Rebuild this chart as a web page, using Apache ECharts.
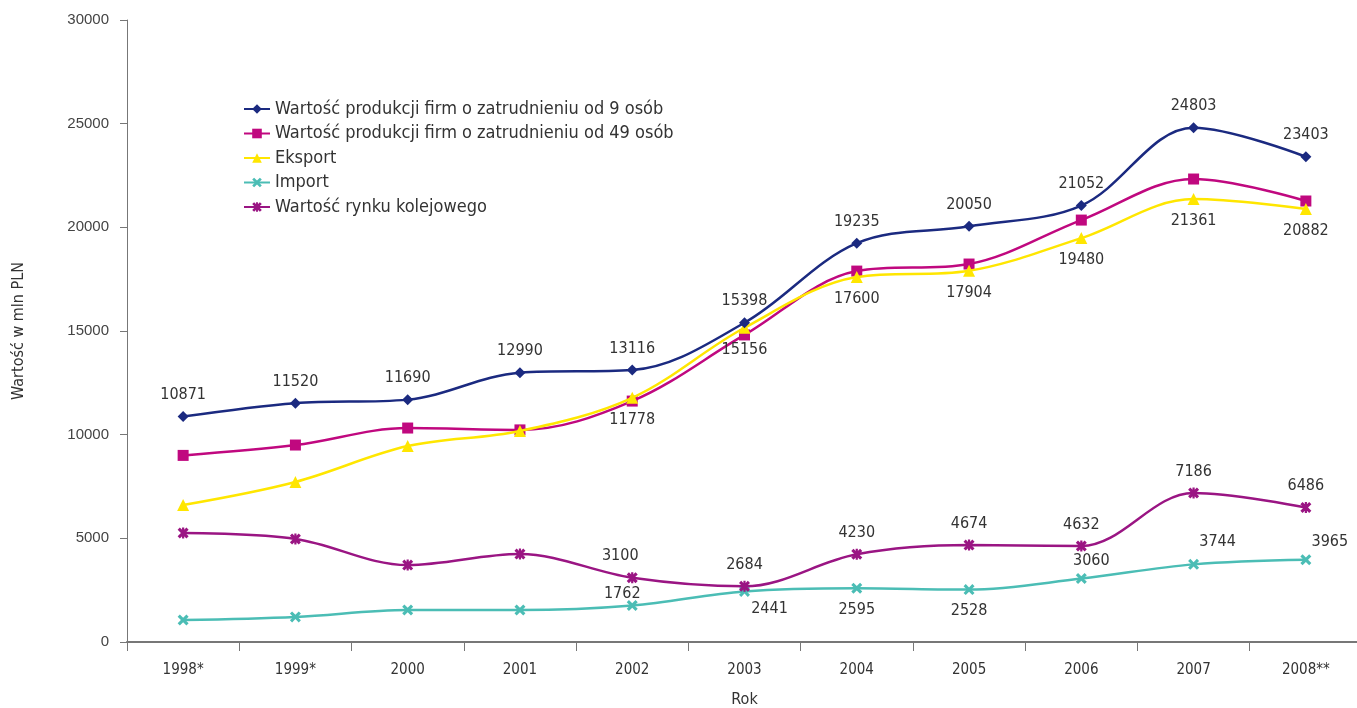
<!DOCTYPE html>
<html><head><meta charset="utf-8">
<script src="https://cdn.jsdelivr.net/npm/echarts@6/dist/echarts.min.js"></script>
<style>html,body{margin:0;padding:0;background:#fff}#c{width:1357px;height:708px}</style>
</head><body><div id="c"></div>
<script>
const categories = ['1998*','1999*','2000','2001','2002','2003','2004','2005','2006','2007','2008**'];
const yTicks = [0,5000,10000,15000,20000,25000,30000];
const firm9 = [10871,11520,11690,12990,13116,15398,19235,20050,21052,24803,23403];
const firm49 = [9000,9500,10320,10230,11620,14810,17890,18230,20350,22330,21270];
const eksport = [6610,7720,9450,10180,11778,15156,17600,17904,19480,21361,20882];
const importV = [1060,1210,1540,1540,1762,2441,2595,2528,3060,3744,3965];
const rynek = [5260,4970,3710,4240,3100,2684,4230,4674,4632,7186,6486];
const names = ['Wartość produkcji firm o zatrudnieniu od 9 osób','Wartość produkcji firm o zatrudnieniu od 49 osób','Eksport','Import','Wartość rynku kolejowego'];

const labelFont = {fontFamily:'DejaVu Sans Condensed', fontSize:16, color:'#333'};
const xSym = 'path://M2,0L5,3L8,0L10,2L7,5L10,8L8,10L5,7L2,10L0,8L3,5L0,2Z';
const starSym = 'path://M2,0L5,3L8,0L10,2L7,5L10,8L8,10L5,7L2,10L0,8L3,5L0,2Z M4,0L6,0L6,10L4,10Z';

function labeled(arr, from, pos, offsets){
  return arr.map((v,i)=>{
    if(i<from) return {value:v, label:{show:false}};
    const o = {value:v, label:Object.assign({show:true, position:pos, distance:8, formatter:'{c}'}, labelFont)};
    if(offsets && offsets[i]) {o.label.position = offsets[i][0]; if(offsets[i][1]) o.label.offset = offsets[i][1];}
    return o;
  });
}

const chart = echarts.init(document.getElementById('c'));
chart.setOption({
  animation:false,
  grid:{left:127, right:-5, top:20, bottom:66, outerBoundsMode:'none', containLabel:false},
  legend:{
    orient:'vertical', left:238, top:95, itemGap:6.5, itemWidth:26, itemHeight:12,
    textStyle:{fontFamily:'DejaVu Sans Condensed', fontSize:18, color:'#333'},
    data:names
  },
  xAxis:{
    type:'category', data:categories, boundaryGap:true,
    name:'Rok', nameLocation:'middle', nameGap:50,
    nameTextStyle:{fontFamily:'DejaVu Sans Condensed', fontSize:16, color:'#333'},
    axisLine:{lineStyle:{color:'#777', width:2}},
    axisTick:{show:true, length:9, lineStyle:{color:'#777', width:1}},
    axisLabel:{fontFamily:'DejaVu Sans Condensed', fontSize:15, color:'#333', margin:21}
  },
  yAxis:{
    type:'value', min:0, max:30000, interval:5000,
    name:'Wartość w mln PLN', nameLocation:'middle', nameGap:100, nameRotate:90,
    nameTextStyle:{fontFamily:'DejaVu Sans Condensed', fontSize:16, color:'#333'},
    axisLine:{show:true, lineStyle:{color:'#777', width:1}},
    axisTick:{show:true, length:7, lineStyle:{color:'#777'}},
    splitLine:{show:false},
    axisLabel:{fontFamily:'Liberation Sans', fontSize:15, color:'#444', margin:18, formatter:(v)=>String(v)}
  },
  series:[
    {name:names[0], type:'line', smooth:0.35, data:labeled(firm9,0,'top'), symbol:'diamond', symbolSize:11,
     itemStyle:{color:'#1B2A80'}, lineStyle:{width:2.5, color:'#1B2A80'}, z:5},
    {name:names[1], type:'line', smooth:0.35, data:firm49, symbol:'rect', symbolSize:11,
     itemStyle:{color:'#C0087F'}, lineStyle:{width:2.5, color:'#C0087F'}, z:3},
    {name:names[2], type:'line', smooth:0.35, data:labeled(eksport,4,'bottom'), symbol:'triangle', symbolSize:12,
     itemStyle:{color:'#FFE600'}, lineStyle:{width:2.5, color:'#FFE600'}, z:4},
    {name:names[3], type:'line', smooth:0.35, symbol:xSym, symbolSize:11,
     data:labeled(importV,4,'bottom',{4:['top',[-10,10]],5:['bottom',[25,-4]],8:['top',[10,4]],9:['top',[24,-1]],10:['top',[24,4]]}),
     itemStyle:{color:'#4BBDB5'}, lineStyle:{width:2.5, color:'#4BBDB5'}, z:3},
    {name:names[4], type:'line', smooth:0.35, symbol:starSym, symbolSize:11,
     data:labeled(rynek,4,'top',{4:['top',[-12,0]]}),
     itemStyle:{color:'#9A1583'}, lineStyle:{width:2.5, color:'#9A1583'}, z:4}
  ]
});
</script></body></html>
